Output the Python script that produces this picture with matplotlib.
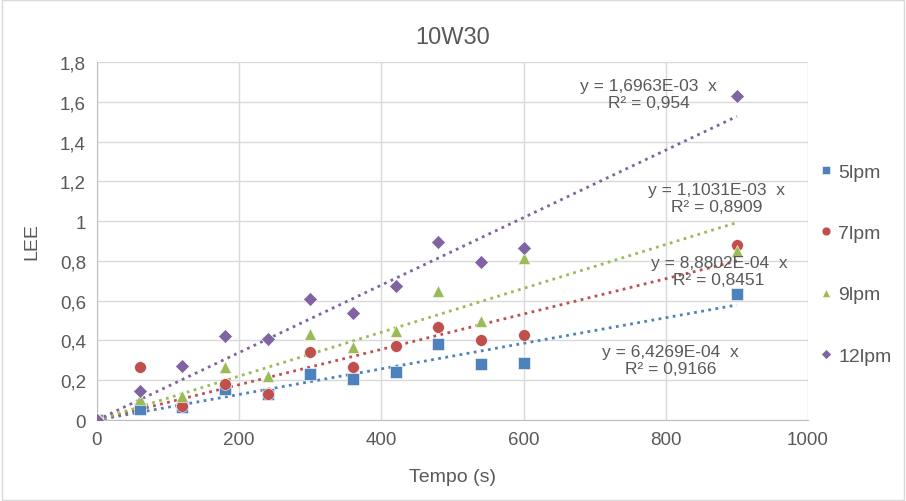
import matplotlib
matplotlib.use("Agg")
import matplotlib.pyplot as plt
import numpy as np

plt.rcParams['font.family'] = ['Liberation Sans', 'DejaVu Sans']

tempo = [0, 60, 120, 180, 240, 300, 360, 420, 480, 540, 600, 900]
lpm5 = [0, 0.055, 0.065, 0.155, 0.13, 0.23, 0.205, 0.24, 0.38, 0.28, 0.285, 0.635]
lpm7 = [0, 0.265, 0.07, 0.18, 0.13, 0.34, 0.265, 0.37, 0.47, 0.40, 0.425, 0.88]
lpm9 = [0, 0.105, 0.12, 0.265, 0.22, 0.43, 0.365, 0.45, 0.65, 0.50, 0.815, 0.85]
lpm12 = [0, 0.145, 0.27, 0.42, 0.405, 0.61, 0.54, 0.675, 0.895, 0.795, 0.865, 1.63]

series_names = ["5lpm", "7lpm", "9lpm", "12lpm"]
slopes = [6.4269e-04, 8.8802e-04, 1.1031e-03, 1.6963e-03]
slope_labels = ["6,4269E-04", "8,8802E-04", "1,1031E-03", "1,6963E-03"]
r2_labels = ["0,9166", "0,8451", "0,8909", "0,954"]

x_ticks = [0, 200, 400, 600, 800, 1000]
y_ticks = [0, 0.2, 0.4, 0.6, 0.8, 1.0, 1.2, 1.4, 1.6, 1.8]
y_tick_labels = ["0", "0,2", "0,4", "0,6", "0,8", "1", "1,2", "1,4", "1,6", "1,8"]

colors = ["#4F81BD", "#C0504D", "#9BBB59", "#8064A2"]
markers = ["s", "o", "^", "D"]
msizes = [8.5, 8.5, 8.5, 6.8]
label_pos = [(807, 0.302), (875, 0.749), (871, 1.116), (776, 1.64)]

fig = plt.figure(figsize=(9.06, 5.02), dpi=100)
ax = fig.add_axes([97/906, 1-421/502, (808-97)/906, (421-63)/502])

data = [lpm5, lpm7, lpm9, lpm12]
handles = []
for i, (vals, name) in enumerate(zip(data, series_names)):
    h, = ax.plot(tempo, vals, linestyle='none', marker=markers[i], ms=msizes[i],
                 color=colors[i], markeredgecolor='white', markeredgewidth=0.4,
                 label=name, zorder=3)
    handles.append(h)
    xs = np.array([0, max(tempo)])
    ax.plot(xs, slopes[i]*xs, linestyle=(0, (1, 1.6)), lw=2, color=colors[i], zorder=2)
    ax.text(label_pos[i][0], label_pos[i][1],
            f"y = {slope_labels[i]}  x\nR² = {r2_labels[i]}",
            ha='center', va='center', fontsize=12.5, color='#595959',
            linespacing=1.15, zorder=4)

ax.set_xlim(0, 1000)
ax.set_ylim(0, 1.8)
ax.set_xticks(x_ticks)
ax.set_yticks(y_ticks)
ax.set_yticklabels(y_tick_labels)
ax.grid(True, color='#D9D9D9', lw=1)
ax.set_axisbelow(True)
for s in ['top', 'right']:
    ax.spines[s].set_visible(False)
for s in ['left', 'bottom']:
    ax.spines[s].set_color('#BFBFBF')
ax.tick_params(length=0, labelsize=13.5, colors='#595959', pad=8)
ax.set_xlabel("Tempo (s)", fontsize=14, color='#595959', labelpad=14)
ax.set_ylabel("LEE", fontsize=14, color='#595959', labelpad=14)
fig.suptitle("10W30", x=0.5, y=1-38/502, va='center', fontsize=17, color='#595959')

fig.legend(handles=handles, loc='center left', bbox_to_anchor=(803/906, 1-265/502),
           frameon=False, fontsize=14, labelcolor='#595959', handlelength=0.6,
           handletextpad=0.3, labelspacing=2.25, markerscale=0.75)

border = plt.Rectangle((0.002, 0.002), 0.996, 0.996, transform=fig.transFigure,
                       fill=False, edgecolor='#D9D9D9', lw=1)
fig.patches.append(border)

fig.savefig("out.png", dpi=100)
